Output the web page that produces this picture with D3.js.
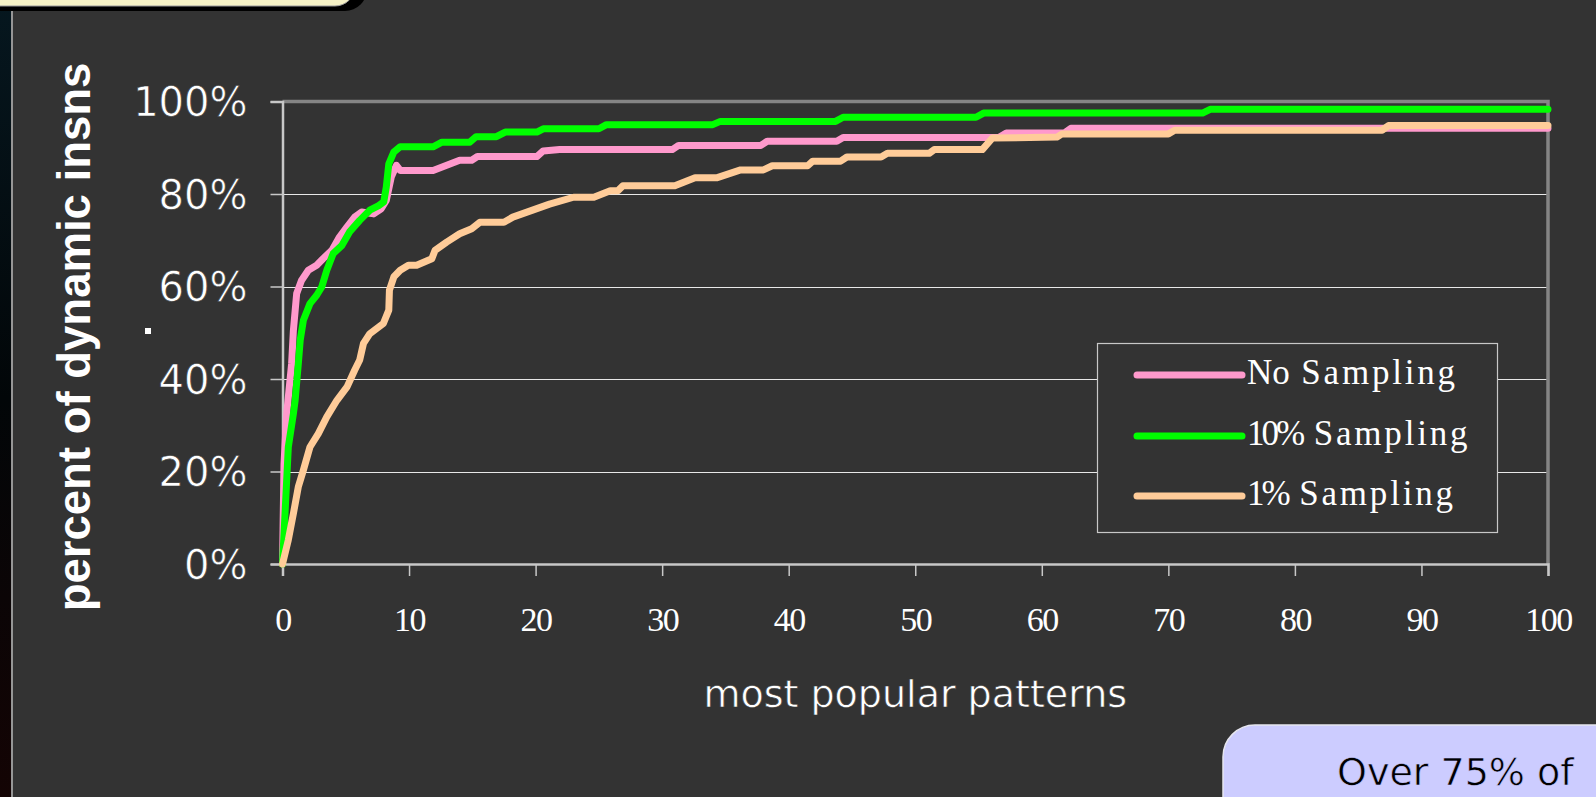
<!DOCTYPE html>
<html>
<head>
<meta charset="utf-8">
<script src="https://cdn.jsdelivr.net/npm/d3@7"></script>
<style>
  html, body { margin: 0; padding: 0; background: #333333; overflow: hidden; }
  svg { display: block; }
</style>
</head>
<body>
<svg id="chart" width="1596" height="797"></svg>
<script>
// ---------------- DATA ----------------
const xTicks = [0, 10, 20, 30, 40, 50, 60, 70, 80, 90, 100];
const yTicks = [0, 20, 40, 60, 80, 100];
const seriesNames = ["No Sampling", "10% Sampling", "1% Sampling"];
const seriesColors = ["#ff99cc", "#00ff00", "#ffcc99"];

// [pattern rank, cumulative % of dynamic insns]
const noSampling = [
  [0,0],[0.12,21.7],[0.33,32.5],[0.72,43.3],[0.86,50.5],[1.12,58.5],[1.5,61.3],[2.04,63.5],
  [2.7,64.6],[3.2,66.0],[3.9,67.8],[4.5,70.7],[5.1,72.9],[5.7,75.0],[6.25,76.1],[7.2,75.7],
  [7.8,76.8],[8.2,78.6],[8.6,83.7],[9.0,86.2],[9.3,85.1],[11.9,85.1],[14.0,87.3],[14.95,87.3],
  [15.4,88.1],[20.1,88.1],[20.6,89.3],[21.9,89.6],[30.8,89.6],[31.3,90.5],[37.8,90.5],[38.3,91.4],
  [43.8,91.4],[44.3,92.2],[56.6,92.2],[57.2,93.2],[61.8,93.2],[62.3,94.2],[100,94.2]
];
const tenPctSampling = [
  [0,0],[0.2,10.9],[0.46,25.3],[0.86,32.5],[1.0,35.4],[1.25,43.3],[1.4,48.4],[1.65,52.7],
  [2.17,56.3],[2.7,58.1],[3.1,59.9],[3.5,63.5],[4.0,67.1],[4.7,68.9],[5.3,71.8],[6.1,74.3],
  [6.9,76.5],[7.6,77.5],[8.0,78.3],[8.2,81.5],[8.4,86.5],[8.8,89.1],[9.3,90.2],[11.9,90.2],
  [12.6,91.2],[14.8,91.2],[15.3,92.4],[16.9,92.4],[17.6,93.4],[20.1,93.4],[20.6,94.1],[25.0,94.1],
  [25.6,95.0],[34.0,95.0],[34.6,95.7],[43.7,95.7],[44.3,96.6],[54.8,96.6],[55.4,97.5],[72.7,97.5],
  [73.3,98.3],[100,98.3]
];
const onePctSampling = [
  [0,0],[0.46,5.2],[0.86,10.9],[1.25,16.7],[1.65,20.3],[2.17,25.3],[2.83,28.2],[3.5,31.8],
  [4.3,35.4],[5.1,38.3],[5.7,41.9],[6.1,44.1],[6.4,47.7],[6.9,49.8],[7.97,52.0],[8.4,54.9],
  [8.45,59.2],[8.8,62.1],[9.3,63.5],[9.95,64.6],[10.6,64.6],[11.8,66.0],[12.05,67.8],[12.97,69.6],
  [14.0,71.4],[14.95,72.5],[15.6,73.9],[17.5,73.9],[18.2,75.0],[21.1,77.8],[23.0,79.3],[24.6,79.3],
  [25.9,80.7],[26.5,80.7],[26.9,81.8],[31.0,81.8],[32.6,83.5],[34.3,83.5],[36.2,85.2],[38.0,85.2],
  [38.7,86.1],[41.5,86.1],[41.9,87.1],[44.1,87.1],[44.6,88.0],[47.3,88.0],[47.8,88.8],[51.1,88.8],
  [51.5,89.6],[55.3,89.6],[56.1,92.1],[61.2,92.3],[61.6,93.0],[70.0,93.0],[70.5,93.8],[86.9,93.8],
  [87.4,94.8],[100,94.8]
];
const xTitle = "most popular patterns";
const yTitle = "percent of dynamic insns";
const noteText = "Over 75% of";

// ---------------- LAYOUT ----------------
const svg = d3.select("#chart");
const W = 1596, H = 797;
const plot = { left: 282.5, right: 1548, top: 101.5, bottom: 564 };
const sansLight = "'DejaVu Sans', sans-serif";

// slightly thin a normal-weight glyph by painting a background-coloured outline over it
function thin(sel, bg) {
  sel.attr("stroke", bg).attr("stroke-width", 0.6).attr("paint-order", "fill")
     .attr("stroke-linejoin", "round");
}

svg.append("rect").attr("width", W).attr("height", H).attr("fill", "#333333");

// left dark strip with gradient
const defs = svg.append("defs");
const lg = defs.append("linearGradient").attr("id", "stripGrad")
  .attr("x1", 0).attr("y1", 0).attr("x2", 0).attr("y2", 1);
lg.append("stop").attr("offset", "0%").attr("stop-color", "#06171f");
lg.append("stop").attr("offset", "50%").attr("stop-color", "#020608");
lg.append("stop").attr("offset", "100%").attr("stop-color", "#140404");
svg.append("rect").attr("x", 0).attr("y", 0).attr("width", 11).attr("height", H).attr("fill", "url(#stripGrad)");
svg.append("line").attr("x1", 12).attr("x2", 12).attr("y1", 10).attr("y2", H)
  .attr("stroke", "#b8b8b8").attr("stroke-width", 1.5);

// top-left title box remnant
svg.append("rect").attr("x", -30).attr("y", -60).attr("width", 397).attr("height", 71).attr("rx", 22)
  .attr("fill", "#000000");
svg.append("rect").attr("x", -30).attr("y", -60).attr("width", 385).attr("height", 66).attr("rx", 20)
  .attr("fill", "#f6f2c6").attr("stroke", "#9a9a9a").attr("stroke-width", 1);

// scales
const x = d3.scaleLinear().domain([0, 100]).range([plot.left, plot.right]);
const y = d3.scaleLinear().domain([0, 100]).range([plot.bottom, plot.top]);

// gridlines
svg.append("g").selectAll("line").data(yTicks.filter(d => d > 0 && d < 100)).join("line")
  .attr("x1", plot.left).attr("x2", plot.right)
  .attr("y1", d => Math.round(y(d)) + 0.5).attr("y2", d => Math.round(y(d)) + 0.5)
  .attr("stroke", "#e8e8e8").attr("stroke-width", 1.2);

// top and right frame (grey)
svg.append("path")
  .attr("d", `M${plot.left},${plot.top} H${plot.right} V${plot.bottom}`)
  .attr("fill", "none").attr("stroke", "#858585").attr("stroke-width", 3.5);

// y axis
const yAxis = d3.axisLeft(y).tickValues(yTicks).tickSize(12).tickFormat(d => d + "%");
const gy = svg.append("g").attr("transform", `translate(${plot.left},0)`).call(yAxis);
gy.select(".domain").attr("stroke", "#c8c8c8").attr("stroke-width", 2.5);
gy.selectAll(".tick line").attr("stroke", "#c8c8c8").attr("stroke-width", 1.5);
gy.selectAll(".tick text")
  .attr("x", -35).attr("dy", "0.36em")
  .attr("fill", "#ffffff")
  .style("font-family", sansLight)
  .style("font-weight", "normal")
  .style("font-size", "40px")
  .call(thin, "#333333");

// x axis
const xAxis = d3.axisBottom(x).tickValues(xTicks).tickSize(12).tickFormat(d => String(d));
const gx = svg.append("g").attr("transform", `translate(0,${plot.bottom})`).call(xAxis);
gx.select(".domain").attr("stroke", "#c8c8c8").attr("stroke-width", 2.5);
gx.selectAll(".tick line").attr("stroke", "#c8c8c8").attr("stroke-width", 1.5);
gx.selectAll(".tick text")
  .attr("y", 55).attr("dy", "0.34em")
  .attr("fill", "#ffffff")
  .style("font-family", "'Liberation Serif', 'Times New Roman', serif")
  .style("font-size", "34px")
  .style("letter-spacing", "-1.5px");

// lines
const line = d3.line().x(d => x(d[0])).y(d => y(d[1])).curve(d3.curveLinear);
const allSeries = [noSampling, tenPctSampling, onePctSampling];
svg.append("g").selectAll("path").data(allSeries).join("path")
  .attr("d", d => line(d))
  .attr("fill", "none")
  .attr("stroke", (d, i) => seriesColors[i])
  .attr("stroke-width", 7)
  .attr("stroke-linejoin", "round")
  .attr("stroke-linecap", "round");

// legend
const leg = { x: 1097, y: 343, w: 400, h: 189 };
svg.append("rect").attr("x", leg.x + 0.5).attr("y", leg.y + 0.5).attr("width", leg.w).attr("height", leg.h)
  .attr("fill", "#333333").attr("stroke", "#c8c8c8").attr("stroke-width", 1.2);
const legRows = [375, 436, 496];
const legItems = svg.append("g").selectAll("g").data(seriesNames).join("g");
legItems.append("line")
  .attr("x1", 1137).attr("x2", 1242)
  .attr("y1", (d, i) => legRows[i]).attr("y2", (d, i) => legRows[i])
  .attr("stroke", (d, i) => seriesColors[i]).attr("stroke-width", 7).attr("stroke-linecap", "round");
const legText = legItems.append("text")
  .attr("x", 1247).attr("y", (d, i) => legRows[i] + 8.5)
  .attr("fill", "#ffffff")
  .style("font-family", "'Liberation Serif', 'Times New Roman', serif")
  .style("font-size", "35px");
legText.each(function(d) {
  const parts = d.split(" ");
  const t = d3.select(this);
  t.append("tspan").text(parts[0]).style("letter-spacing", /\d/.test(parts[0]) ? "-3px" : "0px");
  t.append("tspan").text(" " + parts.slice(1).join(" ")).style("letter-spacing", "2.8px");
});

// axis titles
svg.append("text")
  .attr("x", (plot.left + plot.right) / 2).attr("y", 707)
  .attr("text-anchor", "middle").attr("fill", "#ffffff")
  .style("font-family", sansLight)
  .style("font-weight", "normal")
  .style("font-size", "38px")
  .call(thin, "#333333")
  .text(xTitle);

svg.append("text")
  .attr("transform", "rotate(-90)")
  .attr("x", -337).attr("y", 90)
  .attr("text-anchor", "middle").attr("fill", "#ffffff")
  .style("font-family", "'Liberation Sans', Arial, sans-serif")
  .style("font-weight", "bold")
  .style("font-size", "45.5px")
  .text(yTitle);

// stray period mark near axis title
svg.append("rect").attr("x", 145).attr("y", 328).attr("width", 6).attr("height", 6).attr("fill", "#ffffff");

// bottom-right note box
svg.append("rect").attr("x", 1223).attr("y", 725).attr("width", 420).attr("height", 140).attr("rx", 32)
  .attr("fill", "#ccccff").attr("stroke", "#e6e6f0").attr("stroke-width", 1.5);
svg.append("text")
  .attr("x", 1337).attr("y", 785)
  .attr("fill", "#000000")
  .style("font-family", sansLight)
  .style("font-weight", "normal")
  .style("font-size", "38px")
  .call(thin, "#ccccff")
  .text(noteText);
</script>
</body>
</html>
